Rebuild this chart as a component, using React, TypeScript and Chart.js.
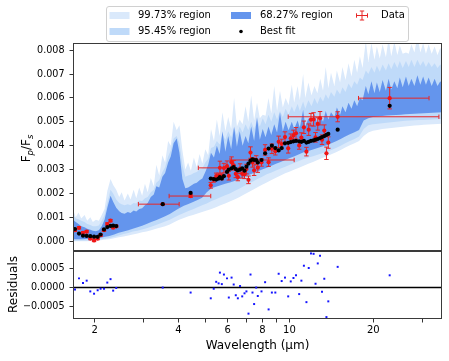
import React, { useEffect, useRef } from 'react';
import { Chart, registerables } from 'chart.js';

Chart.register(...registerables);

const FONT = "'DejaVu Sans', 'Liberation Sans', sans-serif";

// ---- upper edges of the model bands (dense, spiky) ----
const upperWl = [1.67,1.71,1.75,1.79,1.84,1.88,1.93,1.97,2.02,2.07,
2.12,2.17,2.22,2.28,2.33,2.39,2.45,2.50,2.56,2.63,
2.69,2.76,2.82,2.89,2.96,3.03,3.10,3.18,3.26,3.33,
3.41,3.50,3.58,3.67,3.75,3.84,3.94,4.03,4.13,4.23,
4.33,4.43,4.54,4.65,4.76,4.87,4.99,5.11,5.23,5.36,
5.49,5.62,5.75,5.89,6.03,6.18,6.33,6.48,6.63,6.79,
6.96,7.12,7.29,7.47,7.65,7.83,8.02,8.21,8.41,8.61,
8.82,9.03,9.25,9.47,9.69,9.93,10.2,10.4,10.7,10.9,
11.2,11.4,11.7,12.0,12.3,12.6,12.9,13.2,13.5,13.8,
14.1,14.5,14.8,15.2,15.5,15.9,16.3,16.7,17.1,17.5,
17.9,18.3,18.8,19.2,19.7,20.2,20.6,21.1,21.6,22.2,
22.7,23.2,23.8,24.4,24.9,25.5,26.2,26.8,27.4,28.1,
28.8,29.5,30.2,30.9,31.6,32.4,33.2,34.0,34.8,35.3];

const up997 = [0.00135,0.00100,0.00120,0.00095,0.00110,0.00085,0.00100,0.00080,0.00090,0.00085,
0.00110,0.00135,0.00210,0.00260,0.00235,0.00215,0.00185,0.00205,0.00170,0.00200,
0.00175,0.00215,0.00180,0.00225,0.00190,0.00240,0.00205,0.00265,0.00230,0.00320,
0.00275,0.00360,0.00330,0.00420,0.00400,0.00500,0.00465,0.00485,0.00380,0.00300,
0.00330,0.00295,0.00350,0.00310,0.00365,0.00325,0.00385,0.00360,0.00470,0.00420,
0.00510,0.00440,0.00540,0.00460,0.00520,0.00470,0.00600,0.00480,0.00510,0.00490,
0.00565,0.00500,0.00610,0.00505,0.00580,0.00515,0.00530,0.00525,0.00600,0.00535,
0.00650,0.00545,0.00630,0.00560,0.00600,0.00570,0.00655,0.00580,0.00650,0.00590,
0.00700,0.00600,0.00665,0.00610,0.00650,0.00620,0.00680,0.00630,0.00730,0.00640,
0.00705,0.00650,0.00715,0.00665,0.00730,0.00675,0.00745,0.00690,0.00760,0.00705,
0.00775,0.00725,0.00840,0.00750,0.00830,0.00760,0.00815,0.00765,0.00825,0.00770,
0.00850,0.00775,0.00835,0.00780,0.00820,0.00785,0.00790,0.00785,0.00825,0.00790,
0.00860,0.00790,0.00830,0.00785,0.00825,0.00785,0.00815,0.00780,0.00810,0.00790];
const up955 = [0.00110,0.00095,0.00092,0.00085,0.00080,0.00072,0.00068,0.00062,0.00062,0.00066,
0.00085,0.00110,0.00160,0.00215,0.00200,0.00175,0.00160,0.00155,0.00150,0.00155,
0.00150,0.00160,0.00158,0.00170,0.00168,0.00180,0.00185,0.00205,0.00215,0.00245,
0.00255,0.00290,0.00310,0.00355,0.00380,0.00430,0.00440,0.00410,0.00320,0.00270,
0.00275,0.00278,0.00285,0.00290,0.00300,0.00305,0.00330,0.00345,0.00390,0.00395,
0.00420,0.00405,0.00450,0.00425,0.00460,0.00435,0.00475,0.00445,0.00480,0.00455,
0.00490,0.00465,0.00500,0.00470,0.00510,0.00480,0.00515,0.00490,0.00530,0.00500,
0.00540,0.00510,0.00545,0.00520,0.00555,0.00530,0.00565,0.00540,0.00575,0.00545,
0.00585,0.00555,0.00590,0.00565,0.00600,0.00575,0.00605,0.00585,0.00615,0.00595,
0.00625,0.00605,0.00635,0.00615,0.00645,0.00625,0.00660,0.00640,0.00670,0.00655,
0.00685,0.00675,0.00715,0.00700,0.00730,0.00705,0.00735,0.00710,0.00740,0.00715,
0.00745,0.00720,0.00750,0.00725,0.00755,0.00725,0.00755,0.00730,0.00760,0.00730,
0.00760,0.00735,0.00755,0.00730,0.00750,0.00730,0.00745,0.00725,0.00740,0.00730];
const up683 = [0.00090,0.00080,0.00072,0.00062,0.00058,0.00052,0.00048,0.00044,0.00042,0.00046,
0.00062,0.00090,0.00140,0.00190,0.00165,0.00140,0.00125,0.00118,0.00115,0.00122,
0.00118,0.00128,0.00124,0.00135,0.00138,0.00150,0.00160,0.00185,0.00195,0.00230,
0.00225,0.00270,0.00285,0.00330,0.00355,0.00410,0.00430,0.00370,0.00260,0.00222,
0.00225,0.00232,0.00240,0.00245,0.00255,0.00262,0.00290,0.00320,0.00370,0.00350,
0.00400,0.00365,0.00460,0.00375,0.00440,0.00385,0.00480,0.00395,0.00460,0.00400,
0.00440,0.00410,0.00480,0.00420,0.00520,0.00425,0.00470,0.00435,0.00480,0.00445,
0.00490,0.00455,0.00540,0.00460,0.00500,0.00465,0.00500,0.00470,0.00505,0.00475,
0.00550,0.00480,0.00515,0.00485,0.00535,0.00490,0.00525,0.00500,0.00545,0.00510,
0.00540,0.00520,0.00560,0.00530,0.00565,0.00540,0.00580,0.00555,0.00590,0.00565,
0.00600,0.00590,0.00650,0.00615,0.00670,0.00620,0.00665,0.00625,0.00675,0.00630,
0.00680,0.00635,0.00670,0.00640,0.00685,0.00645,0.00690,0.00650,0.00680,0.00650,
0.00695,0.00655,0.00690,0.00655,0.00685,0.00650,0.00680,0.00650,0.00670,0.00660];

// ---- lower edges of the model bands ----
const lowerWl = [1.67,1.73,1.80,1.87,1.94,2.02,2.10,2.18,2.26,2.35,2.44,2.54,2.64,2.74,2.85,2.96,3.07,3.19,3.32,3.45,3.58,3.72,3.87,4.02,4.18,4.34,4.51,4.68,4.86,5.05,5.25,5.45,5.66,5.88,6.11,6.35,6.60,6.85,7.12,7.40,7.68,7.98,8.29,8.62,8.95,9.30,9.66,10.04,10.43,10.83,11.25,11.69,12.15,12.62,13.11,13.62,14.15,14.70,15.27,15.86,16.48,17.12,17.78,18.47,19.19,19.94,20.71,21.52,22.35,23.22,24.12,25.06,26.03,27.04,28.09,29.18,30.32,31.50,32.72,33.99,35.30];
const lo683 = [0.00008,0.00008,0.00008,0.00009,0.00010,0.00012,0.00014,0.00018,0.00022,0.00028,
0.00035,0.00040,0.00046,0.00052,0.00058,0.00065,0.00072,0.00080,0.00088,0.00096,
0.00104,0.00114,0.00126,0.00138,0.00148,0.00156,0.00164,0.00172,0.00182,0.00205,
0.00222,0.00228,0.00234,0.00240,0.00246,0.00252,0.00260,0.00268,0.00276,0.00284,
0.00292,0.00300,0.00308,0.00316,0.00324,0.00332,0.00340,0.00348,0.00356,0.00364,
0.00372,0.00378,0.00384,0.00390,0.00396,0.00402,0.00410,0.00418,0.00428,0.00438,
0.00448,0.00456,0.00466,0.00505,0.00515,0.00520,0.00522,0.00524,0.00526,0.00527,
0.00528,0.00530,0.00532,0.00533,0.00534,0.00535,0.00536,0.00537,0.00538,0.00539,
0.00540];
const lo955 = [0.00002,0.00002,0.00003,0.00003,0.00004,0.00006,0.00007,0.00010,0.00013,0.00018,
0.00024,0.00030,0.00034,0.00040,0.00044,0.00049,0.00054,0.00060,0.00068,0.00075,
0.00082,0.00090,0.00100,0.00110,0.00118,0.00126,0.00134,0.00142,0.00150,0.00158,
0.00168,0.00176,0.00184,0.00192,0.00200,0.00210,0.00220,0.00230,0.00240,0.00250,
0.00260,0.00270,0.00280,0.00288,0.00296,0.00304,0.00312,0.00320,0.00328,0.00336,
0.00344,0.00350,0.00356,0.00362,0.00368,0.00374,0.00382,0.00390,0.00400,0.00410,
0.00420,0.00428,0.00438,0.00470,0.00485,0.00490,0.00492,0.00494,0.00496,0.00498,
0.00500,0.00502,0.00504,0.00505,0.00506,0.00507,0.00508,0.00509,0.00510,0.00511,
0.00512];
const lo997 = [0.00000,0.00000,0.00000,0.00000,0.00001,0.00003,0.00004,0.00006,0.00008,0.00012,
0.00016,0.00020,0.00024,0.00028,0.00032,0.00037,0.00041,0.00046,0.00052,0.00057,
0.00062,0.00070,0.00080,0.00090,0.00097,0.00104,0.00110,0.00116,0.00122,0.00128,
0.00135,0.00142,0.00150,0.00158,0.00166,0.00175,0.00184,0.00194,0.00205,0.00215,
0.00226,0.00236,0.00246,0.00256,0.00266,0.00275,0.00284,0.00292,0.00300,0.00308,
0.00316,0.00324,0.00332,0.00340,0.00348,0.00356,0.00364,0.00372,0.00382,0.00392,
0.00402,0.00410,0.00420,0.00440,0.00455,0.00462,0.00466,0.00470,0.00472,0.00474,
0.00476,0.00478,0.00480,0.00482,0.00484,0.00486,0.00488,0.00489,0.00490,0.00491,
0.00492];

// ---- observed points ----
const pointWl = [1.70,1.757,1.816,1.872,1.929,1.99,2.05,2.10,2.16,2.22,2.28,2.33,2.39,3.51,4.42,
5.22,5.35,5.46,5.57,5.63,5.72,5.82,5.97,6.06,6.20,6.31,6.42,6.53,6.65,6.77,6.90,7.01,7.13,7.25,7.37,
7.47,7.60,7.70,7.94,8.18,8.42,8.65,8.90,9.15,9.38,9.64,9.90,10.11,10.34,10.56,10.84,11.04,11.27,11.51,11.73,
11.95,12.21,12.41,12.64,12.88,13.09,13.34,13.58,13.79,14.9,22.9];
const bestFit = [0.00051,0.00032,0.00023,0.00022,0.00021,0.00019,0.00018,0.00028,0.00049,0.00059,0.00064,0.00065,0.00063,0.00155,0.00202,
0.00262,0.00260,0.00258,0.00262,0.00268,0.00262,0.00272,0.00290,0.00300,0.00305,0.00310,0.00302,0.00296,0.00300,0.00305,0.00295,0.00312,0.00325,0.00337,0.00343,
0.00340,0.00340,0.00330,0.00340,0.00368,0.00388,0.00400,0.00390,0.00380,0.00390,0.00410,0.00412,0.00415,0.00418,0.00420,0.00418,0.00416,0.00420,0.00413,0.00416,
0.00420,0.00422,0.00425,0.00428,0.00432,0.00436,0.00440,0.00445,0.00449,0.00467,0.00567];
const dataVal = [0.00046,0.00056,0.00035,0.00040,0.00011,0.00003,0.00011,0.00025,0.00046,0.00072,0.00086,0.00057,0.00062,0.00155,0.00189,
0.00234,0.00257,0.00273,0.00273,0.00307,0.00271,0.00306,0.00314,0.00274,0.00331,0.00318,0.00282,0.00268,0.00304,0.00282,0.00280,0.00302,0.00257,0.00371,0.00330,
0.00297,0.00340,0.00308,0.00330,0.00382,0.00331,0.00387,0.00377,0.00416,0.00407,0.00436,0.00389,0.00431,0.00443,0.00452,0.00401,0.00434,0.00477,0.00375,0.00467,
0.00509,0.00510,0.00435,0.00491,0.00515,0.00425,0.00463,0.00368,0.00413,0.00521,0.00599];
const dataErr = [0.00005,0.00005,0.00005,0.00005,0.00005,0.00005,0.00005,0.00005,0.00005,0.00005,0.00005,0.00005,0.00005,0.00003,0.00006,
0.00012,0.00010,0.00012,0.00012,0.00028,0.00014,0.00020,0.00022,0.00018,0.00022,0.00020,0.00016,0.00015,0.00020,0.00018,0.00018,0.00020,0.00016,0.00024,0.00020,
0.00022,0.00018,0.00020,0.00016,0.00022,0.00018,0.00020,0.00016,0.00024,0.00020,0.00022,0.00020,0.00018,0.00022,0.00024,0.00016,0.00020,0.00026,0.00018,0.00024,
0.00026,0.00028,0.00020,0.00026,0.00028,0.00020,0.00024,0.00026,0.00024,0.00021,0.00045];
const xErrMinus = [0,0,0,0,0,0,0,0,0,0,0,0,0,0.64,0.72,
0,0,0,0,0.92,0,0,0,0,0,0,0,0,0,0,0,0,0,0,0,
0,1.48,0,0,0,0,0,0,0,0,0,0,0,0,0,0,0,0,0,0,
0,0,0,0,0,0,0,0,0,5.0,5.2];
const xErrPlus = [0,0,0,0,0,0,0,0,0,0,0,0,0,0.51,0.80,
0,0,0,0,0.33,0,0,0,0,0,0,0,0,0,0,0,0,0,0,0,
0,2.8,0,0,0,0,0,0,0,0,0,0,0,0,0,0,0,0,0,0,
0,0,0,0,0,0,0,0,0,19.5,8.8];
const residuals = [-0.00005,0.00024,0.00012,0.00018,-0.00010,-0.00016,-0.00007,-0.00003,-0.00003,0.00013,0.00022,-0.00008,-0.00001,0.0,-0.00013,
-0.00028,-0.00003,0.00015,0.00011,0.00039,0.00009,0.00034,0.00024,-0.00026,0.00026,0.00008,-0.00020,-0.00028,0.00004,-0.00023,-0.00015,-0.00010,-0.00068,0.00034,-0.00013,
-0.00043,0.0,-0.00022,-0.00010,0.00014,-0.00057,-0.00013,-0.00013,0.00036,0.00017,0.00026,-0.00023,0.00016,0.00025,0.00032,-0.00017,0.00018,0.00057,-0.00038,0.00051,
0.00089,0.00088,0.00010,0.00063,0.00083,-0.00011,0.00023,-0.00077,-0.00036,0.00054,0.00032];

// ---- axes ----
const xTicks = [2, 3, 4, 5, 6, 7, 8, 9, 10, 20, 30];
const xLabeled = [2, 4, 6, 8, 10, 20];
const mainTicks = [0, 0.001, 0.002, 0.003, 0.004, 0.005, 0.006, 0.007, 0.008];
const resTicks = [-0.0005, 0, 0.0005];
const legendLabels = ['99.73% region', '95.45% region', '68.27% region', 'Best fit', 'Data'];

const C997 = 'rgb(218,233,251)';
const C955 = 'rgb(191,218,249)';
const C683 = 'rgb(100,149,237)';
const CERR = 'rgb(232,38,38)';
const CDATA = 'rgb(240,20,20)';

const DATA_INDEX = 6;

function errBar(ctx: CanvasRenderingContext2D, x: number, y1: number, y2: number, cap: number, vertical: boolean) {
  ctx.beginPath();
  if (vertical) {
    ctx.moveTo(x, y1); ctx.lineTo(x, y2);
    ctx.moveTo(x - cap, y1); ctx.lineTo(x + cap, y1);
    ctx.moveTo(x - cap, y2); ctx.lineTo(x + cap, y2);
  } else {
    ctx.moveTo(y1, x); ctx.lineTo(y2, x);
    ctx.moveTo(y1, x - cap); ctx.lineTo(y1, x + cap);
    ctx.moveTo(y2, x - cap); ctx.lineTo(y2, x + cap);
  }
  ctx.stroke();
}

const decor = {
  id: 'decor',
  beforeDatasetDraw(chart: any, args: any) {
    if (args.index !== DATA_INDEX) return;
    const { ctx, chartArea } = chart;
    const xs = chart.scales.x, ys = chart.scales.y;
    ctx.save();
    ctx.beginPath();
    ctx.rect(chartArea.left, ys.top, chartArea.right - chartArea.left, ys.bottom - ys.top);
    ctx.clip();
    ctx.strokeStyle = CERR;
    ctx.lineWidth = 1;
    pointWl.forEach((w, i) => {
      const px = xs.getPixelForValue(w);
      const py = ys.getPixelForValue(dataVal[i]);
      errBar(ctx, px, ys.getPixelForValue(dataVal[i] + dataErr[i]), ys.getPixelForValue(dataVal[i] - dataErr[i]), 2.2, true);
      if (xErrMinus[i] > 0 || xErrPlus[i] > 0) {
        errBar(ctx, py, xs.getPixelForValue(w - xErrMinus[i]), xs.getPixelForValue(w + xErrPlus[i]), 2.2, false);
      }
    });
    ctx.restore();
  },
  beforeDatasetsDraw(chart: any) {
    const { ctx, chartArea } = chart;
    const yr = chart.scales.yr;
    const y0 = yr.getPixelForValue(0);
    ctx.save();
    ctx.strokeStyle = '#000';
    ctx.lineWidth = 1.5;
    ctx.beginPath();
    ctx.moveTo(chartArea.left, y0);
    ctx.lineTo(chartArea.right, y0);
    ctx.stroke();
    ctx.restore();
  },
  afterDraw(chart: any) {
    const { ctx, chartArea } = chart;
    const ys = chart.scales.y, yr = chart.scales.yr;
    ctx.save();
    ctx.strokeStyle = '#3a3a3a';
    ctx.lineWidth = 1;
    ctx.strokeRect(chartArea.left + 0.5, ys.top + 0.5, chartArea.right - chartArea.left - 1, ys.bottom - ys.top);
    ctx.strokeRect(chartArea.left + 0.5, yr.top + 1.5, chartArea.right - chartArea.left - 1, yr.bottom - yr.top - 2);

    ctx.fillStyle = '#000';
    ctx.textBaseline = 'alphabetic';
    ctx.textAlign = 'center';
    ctx.font = `12px ${FONT}`;
    ctx.fillText('Wavelength (\u00b5m)', (chartArea.left + chartArea.right) / 2, 349);

    ctx.save();
    ctx.translate(16.5, (yr.top + yr.bottom) / 2);
    ctx.rotate(-Math.PI / 2);
    ctx.fillText('Residuals', 0, 0);
    ctx.restore();

    const parts: [string, boolean][] = [['F', false], ['p', true], ['/F', false], ['s', true]];
    const fontN = `12px ${FONT}`;
    const fontS = `italic 8.5px ${FONT}`;
    let total = 0;
    parts.forEach(([t, s]) => { ctx.font = s ? fontS : fontN; total += ctx.measureText(t).width; });
    ctx.save();
    ctx.translate(30, (ys.top + ys.bottom) / 2 + 2);
    ctx.rotate(-Math.PI / 2);
    ctx.textAlign = 'left';
    let cx = -total / 2;
    parts.forEach(([t, s]) => {
      ctx.font = s ? fontS : fontN;
      ctx.fillText(t, cx, s ? 2.5 : 0);
      cx += ctx.measureText(t).width;
    });
    ctx.restore();

    const lx = 106.5, ly = 6.5, lw = 302, lh = 35, r = 2.5;
    ctx.beginPath();
    ctx.moveTo(lx + r, ly);
    ctx.arcTo(lx + lw, ly, lx + lw, ly + lh, r);
    ctx.arcTo(lx + lw, ly + lh, lx, ly + lh, r);
    ctx.arcTo(lx, ly + lh, lx, ly, r);
    ctx.arcTo(lx, ly, lx + lw, ly, r);
    ctx.closePath();
    ctx.fillStyle = 'rgba(255,255,255,0.85)';
    ctx.fill();
    ctx.strokeStyle = '#d0d0d0';
    ctx.lineWidth = 1;
    ctx.stroke();

    const r1 = 15.5, r2 = 31.5;
    ctx.fillStyle = C997; ctx.fillRect(109.5, r1 - 3.5, 20, 7);
    ctx.fillStyle = C955; ctx.fillRect(109.5, r2 - 3.5, 20, 7);
    ctx.fillStyle = C683; ctx.fillRect(231, r1 - 3.5, 20, 7);
    ctx.fillStyle = '#000';
    ctx.beginPath(); ctx.arc(241, r2, 1.8, 0, Math.PI * 2); ctx.fill();
    ctx.strokeStyle = CERR; ctx.lineWidth = 1;
    errBar(ctx, 362, r1 - 4.5, r1 + 4.5, 2.2, true);
    errBar(ctx, r1, 356.5, 367.5, 2.2, false);

    ctx.fillStyle = '#000';
    ctx.font = `10px ${FONT}`;
    ctx.textAlign = 'left';
    ctx.textBaseline = 'middle';
    ctx.fillText(legendLabels[0], 138, r1);
    ctx.fillText(legendLabels[1], 138, r2);
    ctx.fillText(legendLabels[2], 260, r1);
    ctx.fillText(legendLabels[3], 260, r2);
    ctx.fillText(legendLabels[4], 381, r1);
    ctx.restore();
  },
};

export default function App() {
  const ref = useRef<HTMLCanvasElement>(null);
  useEffect(() => {
    const canvas = ref.current!;
    const pts = (xs: number[], ys: number[]) => xs.map((x, i) => ({ x, y: ys[i] }));
    const band = (xs: number[], ys: number[], color: string, fill: any, order: number) => ({
      data: pts(xs, ys),
      yAxisID: 'y',
      fill,
      backgroundColor: color,
      borderColor: 'rgba(0,0,0,0)',
      borderWidth: 0,
      pointRadius: 0,
      tension: 0,
      order,
    });
    const chart = new Chart(canvas, {
      type: 'line',
      data: {
        datasets: [
          band(upperWl, up997, C997, 1, 5) as any,
          band(lowerWl, lo997, C997, false, 5),
          band(upperWl, up955, C955, 3, 4),
          band(lowerWl, lo955, C955, false, 4),
          band(upperWl, up683, C683, 5, 3),
          band(lowerWl, lo683, C683, false, 3),
          {
            data: pts(pointWl, dataVal),
            yAxisID: 'y',
            showLine: false,
            pointRadius: 2.1,
            pointBackgroundColor: CDATA,
            pointBorderWidth: 0,
            order: 1,
          },
          {
            data: pts(pointWl, bestFit),
            yAxisID: 'y',
            showLine: false,
            pointRadius: 2.1,
            pointBackgroundColor: '#000',
            pointBorderWidth: 0,
            order: 0,
          },
          {
            data: pts(pointWl, residuals),
            yAxisID: 'yr',
            showLine: false,
            pointStyle: 'rect',
            pointRadius: 1.4,
            pointBackgroundColor: 'rgb(20,20,255)',
            pointBorderWidth: 0,
            order: 2,
          },
        ],
      },
      options: {
        responsive: false,
        devicePixelRatio: 1,
        animation: false,
        events: [],
        layout: { padding: { top: 43, right: 7, left: 0, bottom: 0 } },
        plugins: { legend: { display: false }, tooltip: { enabled: false } },
        scales: {
          x: {
            type: 'logarithmic',
            min: 1.672,
            max: 35.29,
            border: { display: false },
            grid: { display: true, drawOnChartArea: false, drawTicks: true, tickLength: 3.5, color: '#000', lineWidth: 0.8 },
            ticks: {
              autoSkip: false,
              maxRotation: 0,
              padding: 2,
              color: '#000',
              font: { family: FONT, size: 10 },
              callback: (v: any) => (xLabeled.includes(Number(v)) ? String(v) : ''),
            },
            afterBuildTicks: (s: any) => { s.ticks = xTicks.map((v) => ({ value: v })); },
            afterFit: (s: any) => { s.height = 42; },
          },
          y: {
            type: 'linear',
            position: 'left',
            stack: 'panels',
            stackWeight: 207,
            weight: 2,
            min: -0.00037,
            max: 0.0083,
            border: { display: false },
            grid: { display: true, drawOnChartArea: false, drawTicks: true, tickLength: 3.5, color: '#000', lineWidth: 0.8 },
            ticks: {
              autoSkip: false,
              padding: 5,
              color: '#000',
              font: { family: FONT, size: 9.6 },
              callback: (v: any) => Number(v).toFixed(3),
            },
            afterBuildTicks: (s: any) => { s.ticks = mainTicks.map((v) => ({ value: v })); },
            afterFit: (s: any) => { s.width = 73; },
          },
          yr: {
            type: 'linear',
            position: 'left',
            stack: 'panels',
            stackWeight: 69,
            weight: 1,
            min: -0.00082,
            max: 0.00098,
            border: { display: false },
            grid: { display: true, drawOnChartArea: false, drawTicks: true, tickLength: 3.5, color: '#000', lineWidth: 0.8 },
            ticks: {
              autoSkip: false,
              padding: 5,
              color: '#000',
              font: { family: FONT, size: 9.6 },
              callback: (v: any) => (Number(v) < 0 ? '\u2212' + Math.abs(Number(v)).toFixed(4) : Number(v).toFixed(4)),
            },
            afterBuildTicks: (s: any) => { s.ticks = resTicks.map((v) => ({ value: v })); },
            afterFit: (s: any) => { s.width = 73; },
          },
        },
      } as any,
      plugins: [decor],
    });
    return () => chart.destroy();
  }, []);
  return (
    <div style={{ position: 'fixed', left: 0, top: 0, width: 449, height: 361, background: '#fff' }}>
      <canvas ref={ref} width={449} height={361} style={{ display: 'block' }} />
    </div>
  );
}
